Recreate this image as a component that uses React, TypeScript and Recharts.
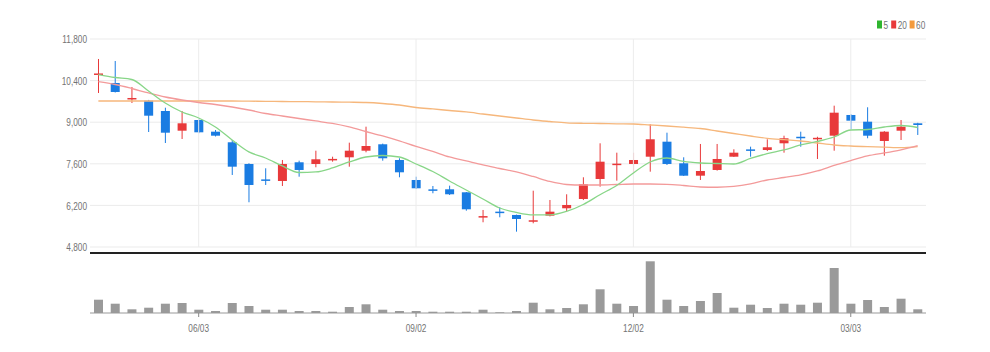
import {
  ComposedChart,
  BarChart,
  Bar,
  Line,
  XAxis,
  YAxis,
  CartesianGrid,
  ReferenceLine,
} from "recharts";

const FONT = '"Liberation Sans", Arial, sans-serif';
const RED = "#e8393a";
const BLUE = "#1a7ce2";

// weekly candles, 2024/04/22 ~ 2025/03/31
const dates = [
  "04/22", "04/29", "05/06", "05/13", "05/20", "05/27", "06/03", "06/10", "06/17", "06/24",
  "07/01", "07/08", "07/15", "07/22", "07/29", "08/05", "08/12", "08/19", "08/26", "09/02",
  "09/09", "09/16", "09/23", "09/30", "10/07", "10/14", "10/21", "10/28", "11/04", "11/11",
  "11/18", "11/25", "12/02", "12/09", "12/16", "12/23", "12/30", "01/06", "01/13", "01/20",
  "01/27", "02/03", "02/10", "02/17", "02/24", "03/03", "03/10", "03/17", "03/24", "03/31",
];

const opens = [
  10605, 10320, 9780, 9724, 9377, 8714, 9074, 8681, 8324, 7594,
  7075, 7022, 7651, 7594, 7720, 7819, 8041, 8257, 7728, 7055,
  6740, 6742, 6641, 5805, 5990, 5878, 5660, 5854, 6103, 6416,
  7089, 7565, 7594, 7839, 8344, 7617, 7200, 7392, 7839, 8085,
  8065, 8290, 8510, 8440, 8546, 9243, 9017, 8368, 8714, 8963,
];
const highs = [
  11127, 11060, 10185, 9750, 9488, 9377, 9100, 8738, 8401, 7617,
  7449, 7728, 7705, 8041, 7839, 8311, 8849, 8280, 7786, 7166,
  6853, 6864, 6650, 6046, 6137, 5890, 6695, 6382, 6574, 7146,
  8290, 7974, 7974, 8930, 8647, 7819, 8267, 8267, 8088, 8176,
  8425, 8546, 8681, 8510, 9556, 9270, 9502, 8700, 9074, 8980,
];
const lows = [
  9983, 10000, 9646, 8670, 8300, 8435, 8630, 8519, 7224, 6305,
  6887, 6853, 7166, 7483, 7671, 7503, 7987, 7705, 7146, 6750,
  6608, 6550, 6022, 5632, 5800, 5316, 5598, 5830, 6012, 6380,
  6830, 7032, 7281, 7335, 7560, 7190, 7055, 7370, 7830, 7839,
  8030, 7974, 8176, 7762, 8041, 8761, 8459, 7873, 8401, 8570,
];
const closes = [
  10640, 10017, 9815, 9219, 8647, 8963, 8660, 8546, 7503, 6887,
  7035, 7594, 7392, 7752, 7765, 8041, 8199, 7786, 7314, 6776,
  6700, 6574, 6069, 5840, 5950, 5743, 5700, 5989, 6214, 6911,
  7671, 7605, 7728, 8425, 7594, 7200, 7358, 7762, 7974, 8045,
  8156, 8459, 8475, 8475, 9320, 9051, 8546, 8681, 8849, 8906,
];

const ma5 = [
  10605, 10504, 10437, 10050, 9646, 9344, 9142, 8839, 8401, 8000,
  7796, 7527, 7308, 7325, 7459, 7661, 7829, 7880, 7829, 7594,
  7340, 7022, 6719, 6416, 6113, 5962, 5878, 5878, 5996, 6231,
  6560, 6870, 7291, 7661, 7796, 7678, 7627, 7610, 7594, 7779,
  7940, 8065, 8233, 8351, 8502, 8738, 8755, 8839, 8889, 8822,
];
const ma20 = [
  10363, 10269, 10134, 9983, 9848, 9747, 9663, 9596, 9512, 9411,
  9293, 9209, 9125, 9041, 8957, 8839, 8687, 8536, 8368, 8183,
  8015, 7829, 7695, 7560, 7442, 7325, 7173, 7005, 6904, 6887,
  6887, 6904, 6921, 6921, 6910, 6870, 6820, 6810, 6837, 6921,
  7055, 7139, 7224, 7358, 7543, 7711, 7863, 7964, 8065, 8210,
];
const ma60 = [
  9714, 9714, 9714, 9714, 9714, 9714, 9714, 9714, 9714, 9707,
  9704, 9697, 9693, 9687, 9680, 9673, 9663, 9630, 9579, 9495,
  9445, 9394, 9344, 9276, 9209, 9142, 9074, 9024, 8980, 8963,
  8957, 8947, 8940, 8906, 8872, 8832, 8788, 8704, 8620, 8536,
  8459, 8411, 8368, 8300, 8233, 8199, 8176, 8159, 8142, 8176,
];

const volumes = [
  133000, 93000, 37000, 53000, 93000, 100000, 33000, 20000, 100000, 70000,
  33000, 33000, 20000, 20000, 13000, 60000, 87000, 33000, 20000, 20000,
  13000, 13000, 13000, 33000, 7000, 20000, 103000, 37000, 50000, 87000,
  237000, 93000, 70000, 517000, 133000, 70000, 120000, 200000, 53000, 83000,
  50000, 93000, 83000, 103000, 450000, 93000, 130000, 60000, 143000, 37000,
];

const priceTicks = [4800, 6200, 7600, 9000, 10400, 11800];
const dateTicks = ["06/03", "09/02", "12/02", "03/03"];

const legendItems = [
  { label: "5", color: "#2fb52f" },
  { label: "20", color: "#e83a3a" },
  { label: "60", color: "#f39a3c" },
];

const rows = dates.map((date, i) => ({
  date,
  open: opens[i],
  high: highs[i],
  low: lows[i],
  close: closes[i],
  ma5: ma5[i],
  ma20: ma20[i],
  ma60: ma60[i],
  volume: volumes[i],
}));

// 캔들: [low, high] 범위 막대 위에 몸통을 그림
function Candle(props: any) {
  const { x, y, width, height, payload } = props;
  if (!payload || height == null) return null;
  const { open, close, high, low } = payload;
  const color = close >= open ? RED : BLUE;
  const h = Math.abs(height);
  const top = height >= 0 ? y : y + height;
  const ratio = h / (high - low);
  const bodyTop = top + (high - Math.max(open, close)) * ratio;
  const bodyH = Math.max(Math.abs(open - close) * ratio, 1.5);
  const cx = x + width / 2;
  return (
    <g>
      <line x1={cx} x2={cx} y1={top} y2={top + h} stroke={color} strokeWidth={1} />
      <rect x={x} y={bodyTop} width={width} height={bodyH} fill={color} />
    </g>
  );
}

// 좁은 글꼴 느낌을 내기 위해 가로로 눌러서 그림
function NarrowText({ x, y, text, anchor, dy }: any) {
  return (
    <g transform={`translate(${x},${y}) scale(0.72,1)`}>
      <text textAnchor={anchor} dy={dy} fill="#737373" fontSize={11.5} fontFamily={FONT}>
        {text}
      </text>
    </g>
  );
}

const PriceTick = (p: any) => (
  <NarrowText x={p.x} y={p.y} anchor="end" dy="0.36em" text={Number(p.payload.value).toLocaleString("en-US")} />
);

const DateTick = (p: any) => (
  <NarrowText x={p.x} y={p.y} anchor="middle" dy="0.71em" text={p.payload.value} />
);

function MaLegend() {
  let cx = 877;
  return (
    <svg width={990} height={40} style={{ position: "absolute", left: 0, top: 0 }}>
      {legendItems.map((it) => {
        const x0 = cx;
        cx += 6.5 + it.label.length * 4.2 + 3.5;
        return (
          <g key={it.label}>
            <rect x={x0} y={20.5} width={5} height={8} fill={it.color} />
            <NarrowText x={x0 + 6.5} y={24.8} anchor="start" dy="0.36em" text={it.label} />
          </g>
        );
      })}
    </svg>
  );
}

export default function App() {
  return (
    <div
      style={{
        position: "absolute",
        left: 0,
        top: 0,
        width: 990,
        height: 352,
        background: "#fff",
        fontFamily: FONT,
      }}
    >
      {/* 가격 */}
      <div style={{ position: "absolute", left: 0, top: 0 }}>
        <ComposedChart
          width={990}
          height={252}
          data={rows}
          margin={{ top: 39, right: 64, bottom: 5, left: 0 }}
        >
          <CartesianGrid vertical={false} stroke="#ebebeb" />
          <XAxis dataKey="date" hide />
          <YAxis
            domain={[4800, 11800]}
            ticks={priceTicks}
            interval={0}
            width={90}
            axisLine={false}
            tickLine={false}
            tickSize={3}
            tickMargin={0}
            tick={PriceTick}
          />
          {dateTicks.map((d) => (
            <ReferenceLine key={d} x={d} stroke="#ececec" />
          ))}
          <Bar
            dataKey={(d: any) => [d.low, d.high]}
            barSize={9}
            shape={<Candle />}
            isAnimationActive={false}
          />
          <Line type="monotone" dataKey="ma60" stroke="#f6b77c" strokeWidth={1.3} dot={false} isAnimationActive={false} />
          <Line type="monotone" dataKey="ma20" stroke="#f39a9a" strokeWidth={1.3} dot={false} isAnimationActive={false} />
          <Line type="monotone" dataKey="ma5" stroke="#88d688" strokeWidth={1.3} dot={false} isAnimationActive={false} />
        </ComposedChart>
      </div>

      {/* 거래량 */}
      <div style={{ position: "absolute", left: 0, top: 0 }}>
        <BarChart
          width={990}
          height={352}
          data={rows}
          margin={{ top: 253, right: 64, bottom: 9, left: 90 }}
        >
          <XAxis
            dataKey="date"
            ticks={dateTicks}
            interval={0}
            height={30}
            axisLine={{ stroke: "#999" }}
            tickLine={{ stroke: "#888" }}
            tickSize={4}
            tickMargin={7}
            tick={DateTick}
          />
          <YAxis hide domain={[0, 600000]} />
          <ReferenceLine y={600000} stroke="#222" strokeWidth={2} />
          <Bar dataKey="volume" fill="#9a9a9a" barSize={9} isAnimationActive={false} />
        </BarChart>
      </div>

      <MaLegend />
    </div>
  );
}
